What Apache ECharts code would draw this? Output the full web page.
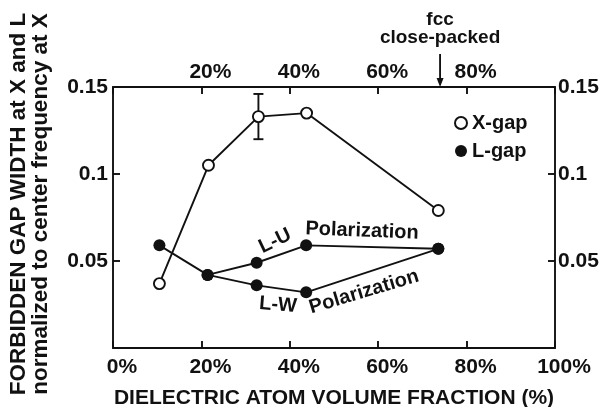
<!DOCTYPE html>
<html>
<head>
<meta charset="utf-8">
<script src="https://cdn.jsdelivr.net/npm/echarts@6/dist/echarts.min.js"></script>
<style>
  html, body { margin: 0; padding: 0; background: #fff; }
  #chart { width: 601px; height: 407px; }
</style>
</head>
<body>
<div id="chart"></div>
<script>
// Forbidden gap width vs. dielectric atom volume fraction
const xGapFraction = [10.5, 21.6, 32.9, 43.8, 73.6];
const xGapWidth    = [0.037, 0.105, 0.133, 0.135, 0.079];

// L-gap, L-U polarization branch (shares the first two points)
const luFraction = [10.5, 21.4, 32.5, 43.7, 73.6];
const luWidth    = [0.059, 0.042, 0.049, 0.059, 0.057];

// L-gap, L-W polarization branch
const lwFraction = [21.4, 32.5, 43.7, 73.6];
const lwWidth    = [0.042, 0.036, 0.032, 0.057];

// Error bar on the X-gap point near one third filling
const errFraction = [32.9];
const errLow      = [0.120];
const errHigh     = [0.146];

// fcc close-packed filling fraction
const fccFraction = 74;

const FONT = '"Liberation Sans", Arial, Helvetica, sans-serif';
const INK = '#111';
const LW = 1.9;

const pair = (xs, ys) => xs.map((x, i) => [x, ys[i]]);

const chart = echarts.init(document.getElementById('chart'));

const tickLabel = { fontFamily: FONT, fontWeight: 'bold', fontSize: 21, color: INK };
const frameLine = { show: true, onZero: false, lineStyle: { color: INK, width: LW } };
const innerTick = { show: true, inside: true, length: 7, lineStyle: { color: INK, width: LW } };

chart.setOption({
  animation: false,
  grid: { left: 113, right: 46, top: 87, bottom: 59, containLabel: false, outerBoundsMode: 'none' },
  xAxis: [
    {
      type: 'value', position: 'bottom', min: 0, max: 100, interval: 20,
      axisLine: frameLine, axisTick: innerTick, splitLine: { show: false },
      axisLabel: Object.assign({}, tickLabel, {
        margin: 9, padding: [0, 0, 0, 18],
        formatter: v => v + '%'
      }),
      name: 'DIELECTRIC ATOM VOLUME FRACTION (%)',
      nameLocation: 'middle', nameGap: 40,
      nameTextStyle: { fontFamily: FONT, fontWeight: 'bold', fontSize: 21, color: INK }
    },
    {
      type: 'value', position: 'top', min: 0, max: 100, interval: 20,
      axisLine: frameLine, axisTick: innerTick, splitLine: { show: false },
      axisLabel: Object.assign({}, tickLabel, {
        margin: 4, padding: [0, 0, 0, 18],
        formatter: v => (v === 0 || v === 100) ? '' : v + '%'
      })
    }
  ],
  yAxis: [
    {
      type: 'value', position: 'left', min: 0, max: 0.15, interval: 0.05,
      axisLine: frameLine, axisTick: innerTick, splitLine: { show: false },
      axisLabel: Object.assign({}, tickLabel, {
        margin: 5,
        formatter: v => v === 0 ? '' : String(+v.toFixed(2))
      })
    },
    {
      type: 'value', position: 'right', min: 0, max: 0.15, interval: 0.05,
      axisLine: frameLine, axisTick: innerTick, splitLine: { show: false },
      axisLabel: Object.assign({}, tickLabel, {
        margin: 3,
        formatter: v => v === 0 ? '' : String(+v.toFixed(2))
      })
    }
  ],
  legend: {
    data: ['X-gap', 'L-gap'],
    orient: 'vertical',
    left: 449, top: 108,
    icon: 'circle',
    itemWidth: 12, itemHeight: 12, itemGap: 8,
    textStyle: { fontFamily: FONT, fontWeight: 'bold', fontSize: 20, color: INK }
  },
  series: [
    {
      name: 'X-gap', type: 'line', z: 3,
      data: pair(xGapFraction, xGapWidth),
      symbol: 'circle', symbolSize: 11,
      lineStyle: { color: INK, width: LW },
      itemStyle: { color: '#fff', borderColor: INK, borderWidth: LW }
    },
    {
      name: 'L-gap', type: 'line', z: 3,
      data: pair(luFraction, luWidth),
      symbol: 'circle', symbolSize: 12,
      lineStyle: { color: INK, width: LW },
      itemStyle: { color: INK, borderColor: INK, borderWidth: 0 }
    },
    {
      name: 'L-gap', type: 'line', z: 3,
      data: pair(lwFraction, lwWidth),
      symbol: 'circle', symbolSize: 12,
      lineStyle: { color: INK, width: LW },
      itemStyle: { color: INK, borderColor: INK, borderWidth: 0 }
    },
    {
      name: 'error', type: 'custom', z: 2,
      data: errFraction.map((x, i) => [x, errLow[i], errHigh[i]]),
      renderItem: function (params, api) {
        const lo = api.coord([api.value(0), api.value(1)]);
        const hi = api.coord([api.value(0), api.value(2)]);
        const w = 5;
        const style = { stroke: INK, lineWidth: LW };
        return {
          type: 'group',
          children: [
            { type: 'line', shape: { x1: hi[0], y1: hi[1], x2: lo[0], y2: lo[1] }, style },
            { type: 'line', shape: { x1: hi[0] - w, y1: hi[1], x2: hi[0] + w, y2: hi[1] }, style },
            { type: 'line', shape: { x1: lo[0] - w, y1: lo[1], x2: lo[0] + w, y2: lo[1] }, style }
          ]
        };
      }
    }
  ]
});

// Annotations: fcc marker arrow, polarization labels, vertical axis title
const fccX = chart.convertToPixel({ xAxisIndex: 1 }, fccFraction);
const textStyle = (text, size) => ({
  text, fontFamily: FONT, fontWeight: 'bold', fontSize: size, fill: INK,
  align: 'center', verticalAlign: 'middle'
});

chart.setOption({
  graphic: [
    { type: 'text', x: fccX, y: 20, style: textStyle('fcc', 19) },
    { type: 'text', x: fccX, y: 38, style: textStyle('close-packed', 19) },
    { type: 'line', shape: { x1: fccX, y1: 54, x2: fccX, y2: 80 }, style: { stroke: INK, lineWidth: LW } },
    { type: 'polygon', shape: { points: [[fccX - 3.5, 78], [fccX + 3.5, 78], [fccX, 87]] }, style: { fill: INK } },

    { type: 'text', x: 275, y: 241, rotation: 0.45, style: textStyle('L-U', 20) },
    { type: 'text', x: 362, y: 231, rotation: -0.04, style: textStyle('Polarization', 20) },
    { type: 'text', x: 278, y: 305, rotation: -0.08, style: textStyle('L-W', 20) },
    { type: 'text', x: 364, y: 292, rotation: 0.29, style: textStyle('Polarization', 20) },

    {
      type: 'text', x: 30, y: 204, rotation: Math.PI / 2,
      style: Object.assign(textStyle('FORBIDDEN GAP WIDTH at X and L\nnormalized to center frequency at X', 22.5), { lineHeight: 22 })
    }
  ]
});
</script>
</body>
</html>
